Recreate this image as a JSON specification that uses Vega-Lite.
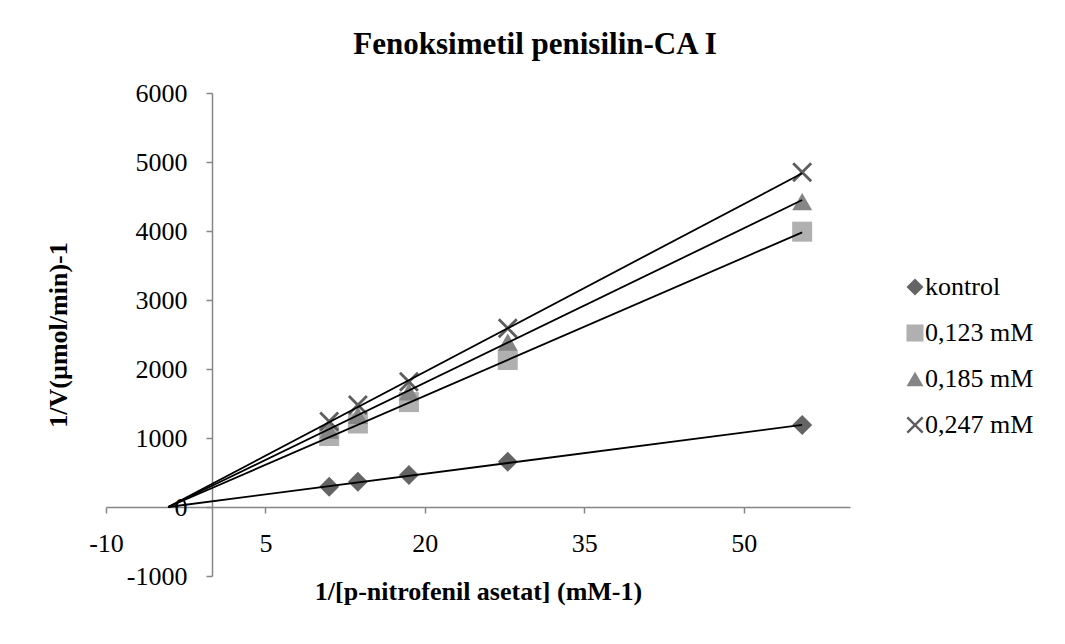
{
  "$schema": "https://vega.github.io/schema/vega-lite/v6.json",
  "width": 744,
  "height": 483,
  "autosize": {"type": "none"},
  "padding": {"left": 106, "top": 93, "right": 215, "bottom": 68},
  "background": "white",
  "config": {
    "view": {"stroke": null},
    "font": "Liberation Serif",
    "legend": {"labelFont": "Liberation Serif", "labelFontSize": 26, "labelColor": "black"}
  },
  "title": {
    "text": "Fenoksimetil penisilin-CA I",
    "font": "Liberation Serif",
    "fontSize": 31,
    "fontWeight": "bold",
    "color": "black",
    "anchor": "middle",
    "frame": "group",
    "dx": 57,
    "offset": 19
  },
  "datasets": {
    "pts": [
      {"series": "kontrol", "x": 11.0, "y": 294},
      {"series": "kontrol", "x": 13.7, "y": 367},
      {"series": "kontrol", "x": 18.5, "y": 464},
      {"series": "kontrol", "x": 27.8, "y": 657},
      {"series": "kontrol", "x": 55.5, "y": 1188},
      {"series": "0,123 mM", "x": 11.0, "y": 1029},
      {"series": "0,123 mM", "x": 13.7, "y": 1210},
      {"series": "0,123 mM", "x": 18.5, "y": 1520},
      {"series": "0,123 mM", "x": 27.8, "y": 2130},
      {"series": "0,123 mM", "x": 55.5, "y": 3990},
      {"series": "0,185 mM", "x": 11.0, "y": 1115},
      {"series": "0,185 mM", "x": 13.7, "y": 1330},
      {"series": "0,185 mM", "x": 18.5, "y": 1670},
      {"series": "0,185 mM", "x": 27.8, "y": 2390},
      {"series": "0,185 mM", "x": 55.5, "y": 4425},
      {"series": "0,247 mM", "x": 11.0, "y": 1240},
      {"series": "0,247 mM", "x": 13.7, "y": 1478},
      {"series": "0,247 mM", "x": 18.5, "y": 1816},
      {"series": "0,247 mM", "x": 27.8, "y": 2590},
      {"series": "0,247 mM", "x": 55.5, "y": 4850}
    ],
    "trend": [
      {"series": "kontrol", "x": -4.15, "y": 0},
      {"series": "kontrol", "x": 55.5, "y": 1190},
      {"series": "0,123 mM", "x": -4.15, "y": 0},
      {"series": "0,123 mM", "x": 55.5, "y": 3981},
      {"series": "0,185 mM", "x": -4.15, "y": 0},
      {"series": "0,185 mM", "x": 55.5, "y": 4449},
      {"series": "0,247 mM", "x": -4.15, "y": 0},
      {"series": "0,247 mM", "x": 55.5, "y": 4836}
    ]
  },
  "encoding": {
    "x": {
      "field": "x",
      "type": "quantitative",
      "scale": {"domain": [-10, 60], "nice": false, "zero": false},
      "axis": {
        "orient": "bottom",
        "offset": -69,
        "values": [-10, 5, 20, 35, 50],
        "labelExpr": "toString(datum.value)",
        "grid": false,
        "domainColor": "#868686",
        "domainWidth": 1.5,
        "tickColor": "#868686",
        "tickWidth": 1.5,
        "tickSize": 6,
        "labelFont": "Liberation Serif",
        "labelFontSize": 26,
        "labelColor": "black",
        "labelPadding": 17,
        "labelFlush": false,
        "labelOverlap": false,
        "title": "1/[p-nitrofenil asetat]  (mM-1)",
        "titleFont": "Liberation Serif",
        "titleFontSize": 26,
        "titleFontWeight": "bold",
        "titleColor": "black",
        "titlePadding": 22
      }
    },
    "y": {
      "field": "y",
      "type": "quantitative",
      "scale": {"domain": [-1000, 6000], "nice": false, "zero": false},
      "axis": {
        "orient": "left",
        "offset": -106,
        "values": [-1000, 0, 1000, 2000, 3000, 4000, 5000, 6000],
        "labelExpr": "toString(datum.value)",
        "grid": false,
        "domainColor": "#868686",
        "domainWidth": 1.5,
        "tickColor": "#868686",
        "tickWidth": 1.5,
        "tickSize": 6,
        "labelFont": "Liberation Serif",
        "labelFontSize": 26,
        "labelColor": "black",
        "labelPadding": 19,
        "labelFlush": false,
        "labelOverlap": false,
        "title": "1/V(µmol/min)-1",
        "titleFont": "Liberation Serif",
        "titleFontSize": 26,
        "titleFontWeight": "bold",
        "titleColor": "black",
        "titlePadding": 55
      }
    }
  },
  "layer": [
    {
      "data": {"name": "pts"},
      "mark": {"type": "point", "filled": true, "opacity": 1, "size": 400, "strokeWidth": 0},
      "encoding": {
        "color": {
          "field": "series",
          "type": "nominal",
          "scale": {
            "domain": ["kontrol", "0,123 mM", "0,185 mM", "0,247 mM"],
            "range": ["#646464", "#B0B0B0", "#858585", "#5E5E5E"]
          },
          "legend": {
            "title": null,
            "orient": "none",
            "legendX": 796,
            "legendY": 181,
            "labelFont": "Liberation Serif",
            "labelFontSize": 26,
            "labelColor": "black",
            "symbolSize": 290,
            "symbolStrokeWidth": 0,
            "symbolOpacity": 1,
            "labelOffset": -3,
            "rowPadding": 20,
            "labelLimit": 300
          }
        },
        "shape": {
          "field": "series",
          "type": "nominal",
          "scale": {
            "domain": ["kontrol", "0,123 mM", "0,185 mM", "0,247 mM"],
            "range": ["diamond", "square", "triangle-up", "M-1,-0.8L-0.8,-1L0,-0.2L0.8,-1L1,-0.8L0.2,0L1,0.8L0.8,1L0,0.2L-0.8,1L-1,0.8L-0.2,0Z"]
          },
          "legend": {
            "title": null,
            "orient": "none",
            "legendX": 796,
            "legendY": 181,
            "labelFont": "Liberation Serif",
            "labelFontSize": 26,
            "labelColor": "black",
            "symbolSize": 290,
            "symbolStrokeWidth": 0,
            "symbolOpacity": 1,
            "labelOffset": -3,
            "rowPadding": 20,
            "labelLimit": 300
          }
        }
      }
    },
    {
      "data": {"name": "trend"},
      "mark": {"type": "line", "color": "black", "strokeWidth": 1.8},
      "encoding": {
        "detail": {"field": "series", "type": "nominal"}
      }
    }
  ]
}
